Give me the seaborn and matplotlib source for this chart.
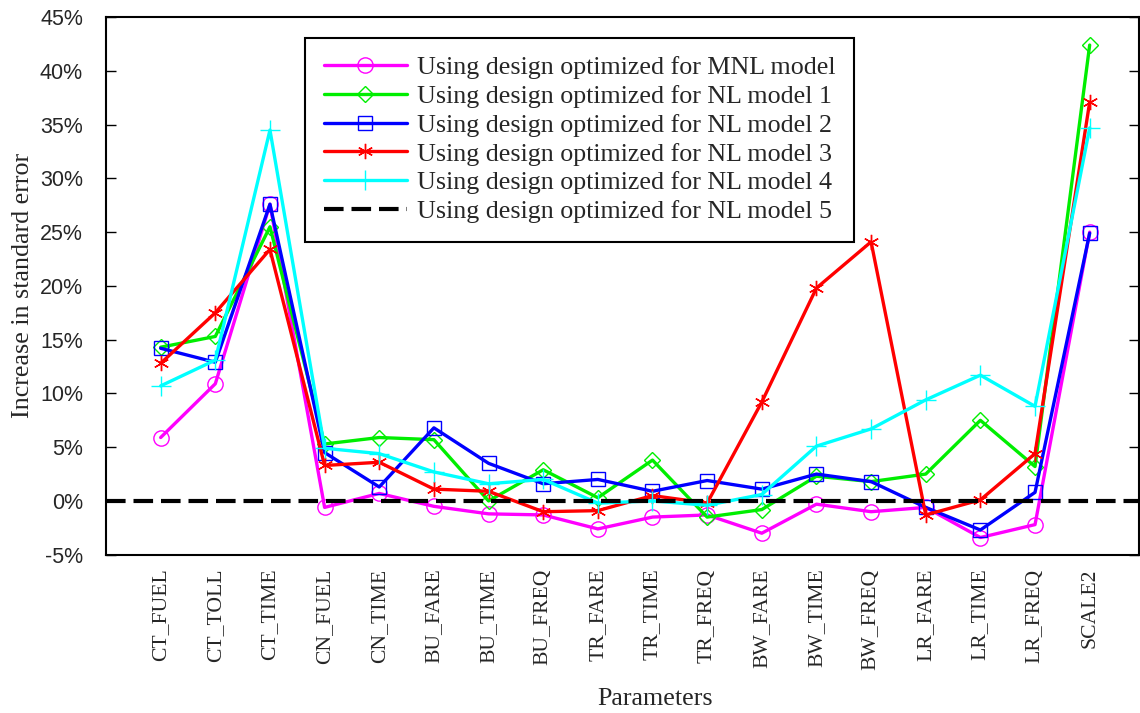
import numpy as np
import pandas as pd
import matplotlib
matplotlib.use("Agg")
import matplotlib.pyplot as plt
import seaborn as sns
from matplotlib.ticker import FuncFormatter, MultipleLocator

params = ["CT_FUEL", "CT_TOLL", "CT_TIME", "CN_FUEL", "CN_TIME", "BU_FARE", "BU_TIME",
          "BU_FREQ", "TR_FARE", "TR_TIME", "TR_FREQ", "BW_FARE", "BW_TIME", "BW_FREQ",
          "LR_FARE", "LR_TIME", "LR_FREQ", "SCALE2"]

mnl = [5.9, 10.9, 27.6, -0.6, 0.7, -0.5, -1.2, -1.3, -2.6, -1.5, -1.3, -3.0, -0.3, -1.0, -0.6, -3.4, -2.2, 25.0]
nl1 = [14.3, 15.3, 25.5, 5.3, 5.9, 5.7, 0.0, 2.9, 0.3, 3.8, -1.5, -0.8, 2.3, 1.8, 2.5, 7.5, 3.2, 42.4]
nl2 = [14.2, 12.9, 27.6, 4.5, 1.3, 6.8, 3.5, 1.6, 2.0, 0.9, 1.9, 1.1, 2.5, 1.8, -0.6, -2.7, 0.8, 24.9]
nl3 = [12.8, 17.5, 23.4, 3.3, 3.6, 1.1, 0.9, -1.0, -0.9, 0.5, -0.2, 9.2, 19.8, 24.1, -1.3, 0.1, 4.4, 37.1]
nl4 = [10.7, 13.1, 34.5, 4.9, 4.4, 2.7, 1.6, 2.0, -0.2, 0.0, -0.4, 0.6, 5.1, 6.7, 9.4, 11.7, 8.8, 34.7]
nl5 = [0.0] * 18

labels = ["Using design optimized for MNL model",
          "Using design optimized for NL model 1",
          "Using design optimized for NL model 2",
          "Using design optimized for NL model 3",
          "Using design optimized for NL model 4",
          "Using design optimized for NL model 5"]

series = [mnl, nl1, nl2, nl3, nl4]
colors = ["#ff00ff", "#00ee00", "#0000ff", "#ff0000", "#00ffff"]
markers = ["o", "D", "s", (6, 2, 0), "+"]
msizes = [11, 8.5, 10.5, 11, 14]

rows = []
for lab, vals in zip(labels, series):
    for i, v in enumerate(vals):
        rows.append({"series": lab, "pos": i, "param": params[i], "value": v})
df = pd.DataFrame(rows)

sns.set_theme(style="white")
plt.rcParams["font.family"] = ["Liberation Serif", "DejaVu Serif"]

fig = plt.figure(figsize=(11.4, 7.13), dpi=100)
ax = fig.add_axes([0.093, 0.222, 0.906, 0.754])

for lab, col, mk, ms in zip(labels, colors, markers, msizes):
    sub = df[df["series"] == lab]
    sns.lineplot(data=sub, x="pos", y="value", ax=ax, color=col, lw=2.4,
                 marker=mk, markersize=ms, markerfacecolor="none",
                 markeredgecolor=col, markeredgewidth=1.0, label=lab)

# NL model 5 is the reference design: constant line across the whole axis
ax.axhline(nl5[0], color="black", lw=3.0, dashes=(4.7, 1.9), label=labels[5], zorder=5)

ax.set_xlim(-1, 17.9)
ax.set_ylim(-5, 45)
ax.yaxis.set_major_locator(MultipleLocator(5))
ax.yaxis.set_major_formatter(FuncFormatter(lambda v, p: f"{v:.0f}%"))
ax.set_xticks(range(len(params)))
ax.set_xticklabels(params, rotation=90, va="top", ha="center", fontsize=15.6)
ax.tick_params(axis="x", length=0, pad=10)
ax.tick_params(axis="y", direction="in", length=7, width=1, right=True, left=True,
               labelsize=15.5, pad=16.5, color="black")
for lbl in ax.get_yticklabels():
    lbl.set_fontfamily("Liberation Sans")

for s in ax.spines.values():
    s.set_color("black")
    s.set_linewidth(1.5)

ax.set_xlabel("Parameters", fontsize=18.7, labelpad=13)
ax.xaxis.label.set_x(0.532)
ax.set_ylabel("Increase in standard error", fontsize=18.7, labelpad=4)

leg = ax.legend(loc="upper left", bbox_to_anchor=(0.193, 0.962), fontsize=18.7,
                frameon=True, fancybox=False, framealpha=1, edgecolor="black",
                handlelength=3.2, labelspacing=0.22, borderpad=0.7, handletextpad=0.4,
                borderaxespad=0)
leg.get_frame().set_linewidth(1.5)

fig.savefig("out.png", dpi=100)
